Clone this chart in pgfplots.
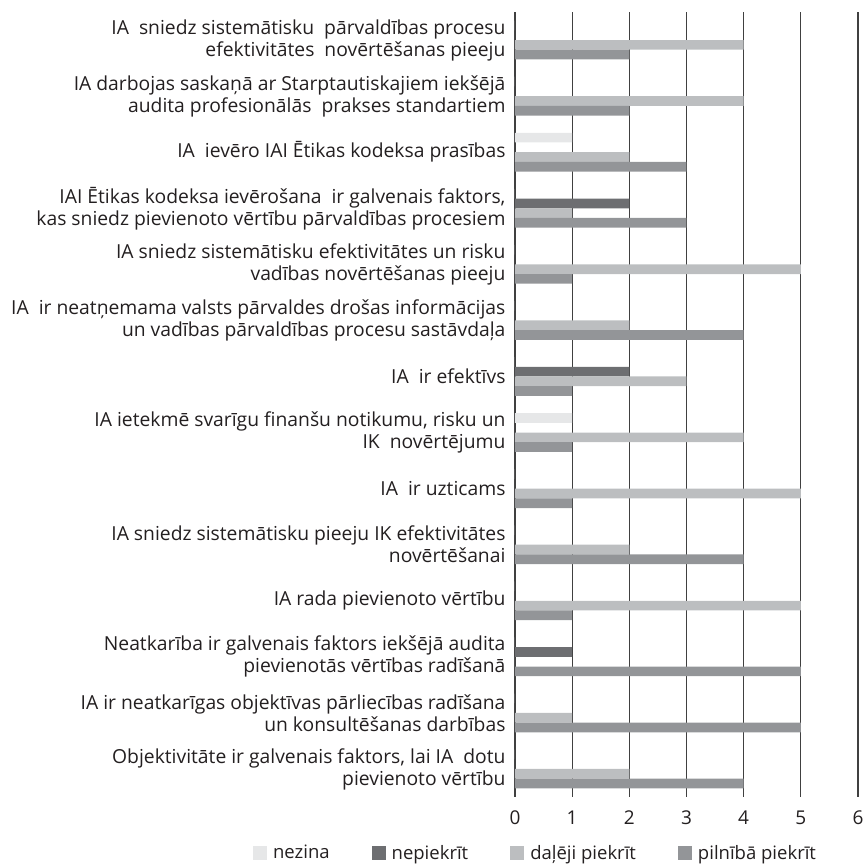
\documentclass[border=0pt]{standalone}
\usepackage{fontspec}
\setmainfont{Open Sans}
\usepackage{pgfplots}
\pgfplotsset{compat=1.18}
\definecolor{cNez}{HTML}{E6E7E8}
\definecolor{cNep}{HTML}{6D6E71}
\definecolor{cDal}{HTML}{BCBEC0}
\definecolor{cPil}{HTML}{939598}
\definecolor{cTxt}{HTML}{231F20}
\begin{document}
\begin{tikzpicture}
\useasboundingbox (-515pt,-70pt) rectangle (349pt,797pt);
\begin{axis}[
  at={(0pt,0pt)}, anchor=south west,
  scale only axis, width=343pt, height=785pt,
  xbar=0pt, bar width=9.7pt,
  xmin=0, xmax=6, xtick={0,1,2,3,4,5,6},
  ymin=-0.5, ymax=13.5, y dir=reverse,
  ytick={0,1,2,3,4,5,6,7,8,9,10,11,12,13},
  yticklabels={
    {IA\ \ sniedz sistemātisku\ \ pārvaldības procesu\\efektivitātes\ \ novērtēšanas pieeju},
    {IA darbojas saskaņā ar Starptautiskajiem iekšējā\\audita profesionālās\ \ prakses standartiem},
    {IA\ \ ievēro IAI Ētikas kodeksa prasības},
    {IAI Ētikas kodeksa ievērošana\ \ ir galvenais faktors,\\kas sniedz pievienoto vērtību pārvaldības procesiem},
    {IA sniedz sistemātisku efektivitātes un risku\\vadības novērtēšanas pieeju},
    {IA\ \ ir neatņemama valsts pārvaldes drošas informācijas\\un vadības pārvaldības procesu sastāvdaļa},
    {IA\ \ ir efektīvs},
    {IA ietekmē svarīgu finanšu notikumu, risku un\\IK\ \ novērtējumu},
    {IA\ \ ir uzticams},
    {IA sniedz sistemātisku pieeju IK efektivitātes\\novērtēšanai},
    {IA rada pievienoto vērtību},
    {Neatkarība ir galvenais faktors iekšējā audita\\pievienotās vērtības radīšanā},
    {IA ir neatkarīgas objektīvas pārliecības radīšana\\un konsultēšanas darbības},
    {Objektivitāte ir galvenais faktors, lai IA\ \ dotu\\pievienoto vērtību}
  },
  yticklabel style={align=right, font=\fontsize{19.3}{22}\selectfont, text=cTxt, xshift=-6pt},
  xticklabel style={font=\fontsize{19}{20}\selectfont, text=cTxt, anchor=north, yshift=-10pt},
  /pgf/number format/assume math mode=true,
  axis line style={draw=none},
  major tick length=0pt,
  xmajorgrids, grid style={color=black!75, line width=1.1pt},
  legend columns=4,
  legend style={draw=none, fill=none, inner sep=0pt, at={(-0.764,-0.071)}, anchor=west,
    font=\fontsize{18.5}{20}\selectfont, text=cTxt,
    /tikz/every even column/.append style={column sep=40pt}},
  legend image code/.code={\fill[#1] (0pt,-7pt) rectangle (14pt,7pt); \path (18pt,0pt);},
]
\addplot[fill=cNez, draw=none, bar shift=14.55pt] coordinates {(0,0) (0,1) (1,2) (0,3) (0,4) (0,5) (0,6) (1,7) (0,8) (0,9) (0,10) (0,11) (0,12) (0,13)};
\addplot[fill=cNep, draw=none, bar shift=4.85pt] coordinates {(0,0) (0,1) (0,2) (2,3) (0,4) (0,5) (2,6) (0,7) (0,8) (0,9) (0,10) (1,11) (0,12) (0,13)};
\addplot[fill=cDal, draw=none, bar shift=-4.85pt] coordinates {(4,0) (4,1) (2,2) (1,3) (5,4) (2,5) (3,6) (4,7) (5,8) (2,9) (5,10) (0,11) (1,12) (2,13)};
\addplot[fill=cPil, draw=none, bar shift=-14.55pt] coordinates {(2,0) (2,1) (3,2) (3,3) (1,4) (4,5) (1,6) (1,7) (1,8) (4,9) (1,10) (5,11) (5,12) (4,13)};
\legend{nezina, nepiekrīt, daļēji piekrīt, pilnībā piekrīt}
\end{axis}
\end{tikzpicture}
\end{document}
